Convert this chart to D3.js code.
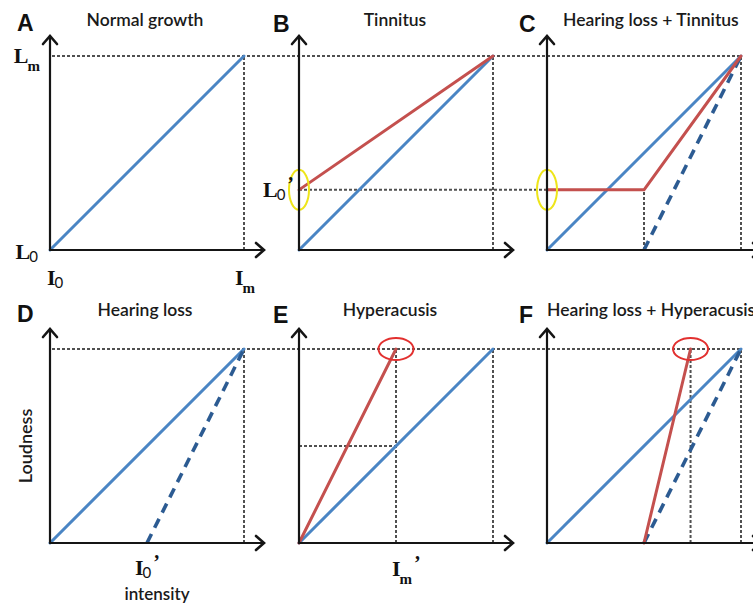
<!DOCTYPE html>
<html>
<head>
<meta charset="utf-8">
<script src="https://cdn.jsdelivr.net/npm/d3@7"></script>
<style>
  html, body { margin: 0; padding: 0; background: #fff; }
  svg { display: block; }
</style>
</head>
<body>
<svg id="chart" width="753" height="603"></svg>
<script>
// Loudness growth functions: intensity (x) against loudness (y), both normalised to [0, 1].
const panelLetters = ["A", "B", "C", "D", "E", "F"];
const panelTitles = ["Normal growth", "Tinnitus", "Hearing loss + Tinnitus",
                     "Hearing loss", "Hyperacusis", "Hearing loss + Hyperacusis"];

// Key levels
const L0prime = 0.31;     // tinnitus raises the loudness floor
const I0prime = 0.5;      // raised threshold with hearing loss
const ImPrime = 0.5;      // reduced maximum comfortable intensity (hyperacusis)
const ImPrimeLoss = 0.74; // same with hearing loss

// Curves as [intensity, loudness] points
const normalCurve = [[0, 0], [1, 1]];
const tinnitusCurve = [[0, L0prime], [1, 1]];
const lossTinnitusCurve = [[0, L0prime], [I0prime, L0prime], [1, 1]];
const hearingLossCurve = [[I0prime, 0], [1, 1]];
const hyperacusisCurve = [[0, 0], [ImPrime, 1]];
const lossHyperacusisCurve = [[I0prime, 0], [ImPrimeLoss, 1]];

// Layout
const size = 194;
const colX = [50, 299, 547];
const rowY = [250, 543];
const arrowExt = 1 + 20 / size;

const svg = d3.select("#chart");

const panels = panelLetters.map((id, i) => {
  const col = i % 3, row = Math.floor(i / 3);
  return {
    id, title: panelTitles[i], col, row,
    x: d3.scaleLinear().domain([0, 1]).range([colX[col], colX[col] + size]),
    y: d3.scaleLinear().domain([0, 1]).range([rowY[row], rowY[row] - size])
  };
});
const P = Object.fromEntries(panels.map(p => [p.id, p]));

const COLORS = {
  blue: "#4a85c4",
  blueDash: "#2c5b92",
  red: "#c4504e",
  guide: "#505050",
  axis: "#151515"
};

const gGuides = svg.append("g");
const gCurves = svg.append("g");
const gAxes = svg.append("g");
const gText = svg.append("g");

function guide(x1, y1, x2, y2) {
  gGuides.append("line")
    .attr("x1", x1).attr("y1", y1).attr("x2", x2).attr("y2", y2)
    .attr("stroke", COLORS.guide).attr("stroke-width", 2)
    .attr("stroke-dasharray", "3,2");
}

// Maximum loudness level across each row
[["A", "C"], ["D", "F"]].forEach(([a, b]) => {
  guide(P[a].x(0) + 2, P[a].y(1), P[b].x(1), P[b].y(1));
});
// Maximum intensity verticals
panels.forEach(p => guide(p.x(1), p.y(0), p.x(1), p.y(1)));
// Tinnitus floor carried from B into C
guide(P.B.x(0), P.B.y(L0prime), P.C.x(0), P.C.y(L0prime));
guide(P.C.x(I0prime), P.C.y(0), P.C.x(I0prime), P.C.y(L0prime));
// Hyperacusis reference lines
guide(P.E.x(ImPrime), P.E.y(0), P.E.x(ImPrime), P.E.y(1));
guide(P.E.x(0), P.E.y(ImPrime), P.E.x(ImPrime), P.E.y(ImPrime));
guide(P.F.x(ImPrimeLoss), P.F.y(0), P.F.x(ImPrimeLoss), P.F.y(1));

function curve(p, data, color, dashed) {
  const line = d3.line().x(d => p.x(d[0])).y(d => p.y(d[1]));
  const path = gCurves.append("path")
    .attr("d", line(data))
    .attr("fill", "none")
    .attr("stroke", color)
    .attr("stroke-width", dashed ? 3.6 : 3)
    .attr("stroke-linejoin", "round")
    .attr("stroke-linecap", dashed ? "butt" : "round");
  if (dashed) path.attr("stroke-dasharray", "10,7");
}

panels.forEach(p => curve(p, normalCurve, COLORS.blue, false));
curve(P.C, hearingLossCurve, COLORS.blueDash, true);
curve(P.D, hearingLossCurve, COLORS.blueDash, true);
curve(P.F, hearingLossCurve, COLORS.blueDash, true);
curve(P.B, tinnitusCurve, COLORS.red, false);
curve(P.C, lossTinnitusCurve, COLORS.red, false);
curve(P.E, hyperacusisCurve, COLORS.red, false);
curve(P.F, lossHyperacusisCurve, COLORS.red, false);

// Highlight ellipses
function ring(cx, cy, rx, ry, color) {
  gCurves.append("ellipse")
    .attr("cx", cx).attr("cy", cy).attr("rx", rx).attr("ry", ry)
    .attr("fill", "none").attr("stroke", color).attr("stroke-width", 2);
}
ring(P.B.x(0), P.B.y(L0prime), 10, 20, "#eee51a");
ring(P.C.x(0), P.C.y(L0prime), 10, 20, "#eee51a");
ring(P.E.x(ImPrime), P.E.y(1), 17.5, 11, "#e2302f");
ring(P.F.x(ImPrimeLoss), P.F.y(1), 17.5, 11, "#e2302f");

// Axes with open arrowheads
panels.forEach(p => {
  const ox = p.x(0), oy = p.y(0);
  const tx = p.x(arrowExt), ty = p.y(arrowExt);
  const g = gAxes.append("g")
    .attr("fill", "none").attr("stroke", COLORS.axis)
    .attr("stroke-width", 2.2).attr("stroke-linecap", "round")
    .attr("stroke-linejoin", "miter");
  g.append("line").attr("x1", ox).attr("y1", oy).attr("x2", tx).attr("y2", oy);
  g.append("line").attr("x1", ox).attr("y1", oy).attr("x2", ox).attr("y2", ty);
  g.append("path").attr("d", `M${tx - 8},${oy - 7}L${tx},${oy}L${tx - 8},${oy + 7}`)
    .attr("stroke-width", 2.6);
  g.append("path").attr("d", `M${ox - 7},${ty + 8}L${ox},${ty}L${ox + 7},${ty + 8}`)
    .attr("stroke-width", 2.6);
});

// Panel letters and titles
const letterOffset = [-33, -26, -28];
const letterBase = [31, 322];
panels.forEach(p => {
  gText.append("text")
    .attr("x", colX[p.col] + letterOffset[p.col])
    .attr("y", letterBase[p.row] + (p.col === 0 ? 0 : 1))
    .attr("font-family", "Liberation Sans, Arial, sans-serif")
    .attr("font-weight", "bold").attr("font-size", 23)
    .attr("fill", "#111").text(p.id);
});
const titleBase = [26, 316];
const titleAnchor = ["middle", "middle", "start", "middle", "middle", "start"];
const titleX = [145, 395, 563, 145, 390, 547];
panels.forEach((p, i) => {
  gText.append("text")
    .attr("x", titleX[i]).attr("y", titleBase[p.row])
    .attr("text-anchor", titleAnchor[i])
    .attr("font-family", "Lato, 'Open Sans', sans-serif")
    .attr("font-size", 17.5).attr("font-weight", 600)
    .attr("fill", "#1a1a1a").text(p.title);
});

// Symbol labels: main letter in serif, subscript below
function symbol(x, y, main, sub, prime, anchor) {
  const t = gText.append("text")
    .attr("x", x).attr("y", y)
    .attr("text-anchor", anchor || "start")
    .attr("fill", "#111");
  t.append("tspan")
    .attr("font-family", "Liberation Serif, 'Times New Roman', serif")
    .attr("font-size", 22).attr("font-weight", "bold").text(main);
  const isDigit = /\d/.test(sub);
  t.append("tspan")
    .attr("font-family", isDigit ? "Lato, sans-serif" : "Liberation Serif, serif")
    .attr("font-size", 15)
    .attr("font-weight", isDigit ? "normal" : "bold")
    .attr("dx", -1).attr("dy", isDigit ? 3 : 8).text(sub);
  if (prime) {
    t.append("tspan")
      .attr("font-family", "Liberation Serif, serif")
      .attr("font-size", 20).attr("font-weight", "bold")
      .attr("dx", 2).attr("dy", isDigit ? -9 : -14).text("\u2019");
  }
}
symbol(P.A.x(0) - 10, P.A.y(1) + 7, "L", "m", false, "end");
symbol(P.A.x(0) - 12, P.A.y(0) + 9, "L", "0", false, "end");
symbol(P.A.x(0) - 3, P.A.y(0) + 35, "I", "0", false, "start");
symbol(P.A.x(1) - 9, P.A.y(0) + 35, "I", "m", false, "start");
symbol(P.B.x(0) - 5, P.B.y(L0prime) + 7, "L", "0", true, "end");
symbol(P.D.x(I0prime) - 12, P.D.y(0) + 32, "I", "0", true, "start");
symbol(P.E.x(ImPrime) - 4, P.E.y(0) + 33, "I", "m", true, "start");

// Axis titles
gText.append("text")
  .attr("x", P.D.x(I0prime) + 10).attr("y", 600)
  .attr("text-anchor", "middle")
  .attr("font-family", "Lato, 'Open Sans', sans-serif")
  .attr("font-size", 17).attr("font-weight", 600)
  .attr("fill", "#1a1a1a").text("intensity");
gText.append("text")
  .attr("transform", `translate(32, ${P.D.y(0.5)}) rotate(-90)`)
  .attr("text-anchor", "middle")
  .attr("font-family", "Lato, 'Open Sans', sans-serif")
  .attr("font-size", 18).attr("font-weight", 600)
  .attr("fill", "#1a1a1a").text("Loudness");
</script>
</body>
</html>
